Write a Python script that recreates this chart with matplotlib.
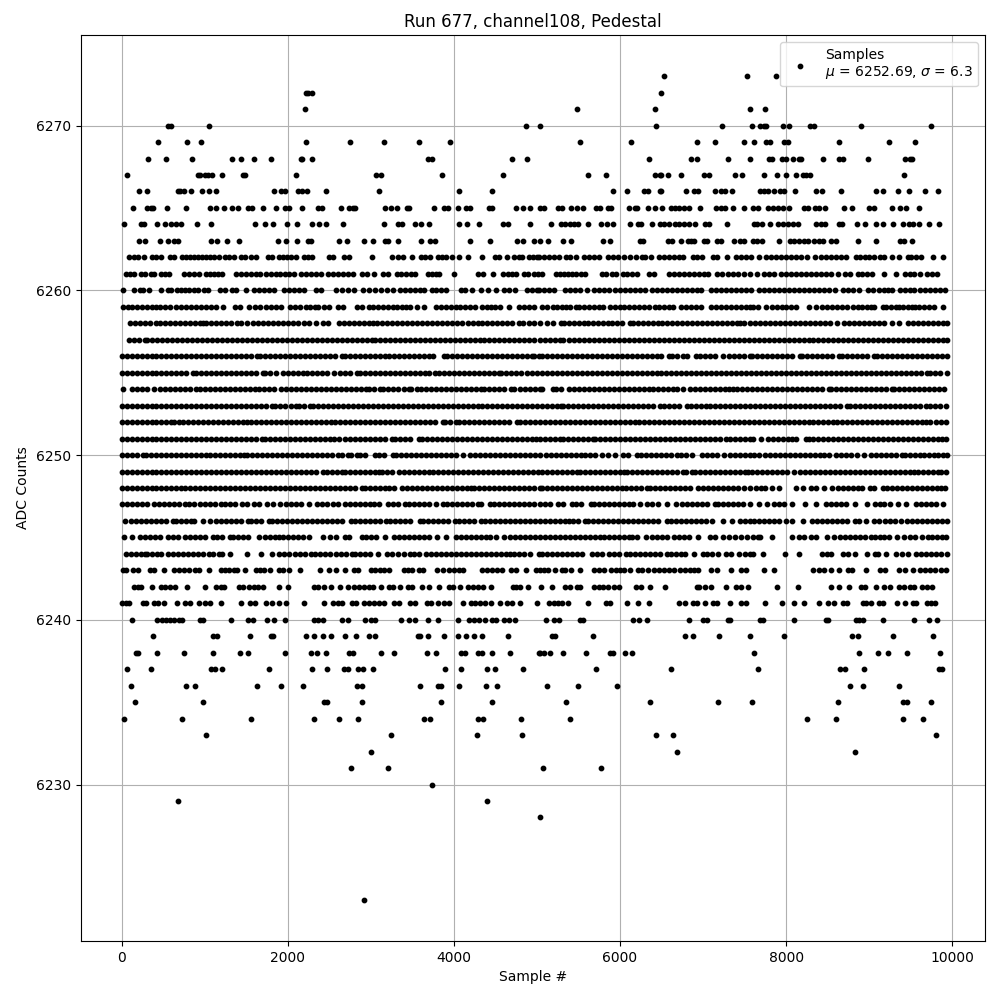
#!/usr/bin/env python3
"""
Pedestal samples of one ADC channel, values read off the picture level by level
"""
import numpy as np
import matplotlib
matplotlib.use('Agg')
import matplotlib.pyplot as plt

# sample numbers seen at each ADC level
s_6223 = [2916]
s_6228 = [5040]
s_6229 = [679, 4402]
s_6230 = [3739]
s_6231 = [2763, 3209, 5077, 5775]
s_6232 = [3004, 6691, 8824]
s_6233 = [1016, 3245, 4281, 4823, 6438, 6643, 9811]
s_6234 = [28, 727, 1558, 2317, 2618, 2847, 3642, 3715, 4293, 4353, 4811, 5402, 8257, 8607, 9402, 9643]
s_6235 = [161, 980, 2437, 2474, 2896, 3847, 4462, 5354, 6366, 7185, 7595, 8631, 9402, 9450, 9739]
s_6236 = [112, 775, 884, 1630, 1920, 2185, 2835, 2896, 3594, 3811, 3847, 4064, 4390, 4522, 5125, 5498, 5968, 8775, 8932, 9354]
s_6237 = [64, 353, 1076, 1125, 1209, 1775, 2293, 2474, 2679, 2727, 2847, 2908, 3028, 3896, 4088, 4402, 4498, 4835,
          5715, 6619, 7667, 8655, 8715, 8944, 9836, 9872]
s_6238 = [173, 197, 426, 751, 1100, 1426, 1522, 1968, 2281, 2353, 2462, 2739, 2787, 3124, 3281, 3679, 3787, 4088, 4137,
          4293, 4341, 4462, 4679, 5028, 5040, 5089, 5161, 5318, 5595, 5884, 5920, 6064, 6149, 7619, 8884, 9101, 9233, 9450, 9848]
s_6239 = [378, 1100, 1148, 1546, 1799, 1823, 2221, 2317, 2426, 2522, 2691, 2823, 2980, 3052, 3570, 3594, 3691, 3883,
          4052, 4149, 4245, 4341, 4655, 5185, 5221, 5679, 6787, 6884, 7197, 7570, 7980, 8799, 8860, 9293, 9763]
s_6240 = [124, 426, 486, 534, 582, 630, 691, 727, 944, 980, 1317, 1522, 1582, 1751, 1835, 1968, 2317, 2365, 2426, 2655, 2727,
          2932, 3004, 3052, 3366, 3462, 3534, 3691, 3811, 4052, 4185, 4245, 4305, 4378, 4462, 4510, 4606, 4667, 4739,
          5113, 5209, 5269, 5522, 5558, 6161, 6233, 6330, 6836, 7004, 7052, 7305, 7329, 7691, 7727, 8101, 8486, 8510,
          8836, 8872, 8932, 9161, 9546, 9715, 9823]
s_6241 = [4, 52, 88, 257, 293, 390, 438, 510, 667, 763, 823, 932, 1004, 1064, 1197, 1438, 1546, 1606, 1739, 1811, 1896, 1980,
          2197, 2437, 2546, 2606, 2655, 2775, 2823, 2920, 2980, 3040, 3100, 3161, 3281, 3341, 3474, 3534, 3679, 3727,
          3811, 3883, 3944, 4112, 4209, 4257, 4317, 4378, 4450, 4558, 4643, 4703, 4799, 5004, 5149, 5209, 5257, 5305, 5378,
          5619, 5836, 5884, 6089, 6221, 6354, 6715, 6787, 6884, 6932, 7028, 7125, 7173, 7329, 7462, 7522, 7751, 7956,
          8101, 8221, 8402, 8510, 8571, 8691, 8739, 8932, 8968, 9028, 9113, 9161, 9330, 9426, 9534, 9570, 9691, 9739, 9799]
s_6242 = [149, 197, 233, 365, 474, 522, 582, 643, 787, 1004, 1137, 1197, 1233, 1414, 1462, 1534, 1594, 1643, 1703, 1896, 2004,
          2317, 2365, 2437, 2522, 2631, 2727, 2799, 2859, 2920, 2980, 3028, 3124, 3221, 3269, 3353, 3450, 3498, 3618, 3703,
          3823, 3944, 3992, 4076, 4173, 4233, 4293, 4353, 4450, 4715, 4751, 4799, 4895, 5053, 5185, 5342, 5402, 5486, 5522,
          5691, 5751, 5799, 5860, 5932, 5992, 6197, 6257, 6366, 6546, 6932, 6956, 7028, 7101, 7282, 7402, 7462, 7546, 7896,
          8149, 8546, 8643, 8763, 8908, 8956, 9088, 9185, 9257, 9354, 9414, 9486, 9546, 9631, 9691, 9751]
s_6243 = [16, 52, 137, 197, 341, 390, 510, 630, 691, 751, 811, 884, 932, 1052, 1197, 1245, 1293, 1353, 1390, 1486, 1618, 1667,
          1715, 1787, 1896, 1944, 2016, 2149, 2389, 2498, 2582, 2691, 2799, 2847, 3004, 3052, 3112, 3161, 3221, 3402, 3450,
          3498, 3582, 3630, 3799, 3871, 3944, 4004, 4064, 4112, 4341, 4402, 4462, 4522, 4582, 4691, 4751, 4871, 4992,
          5040, 5089, 5137, 5221, 5305, 5342, 5414, 5522, 5691, 5751, 5811, 5896, 5956, 6004, 6052, 6125, 6221, 6269, 6342,
          6414, 6474, 6534, 6595, 6655, 6727, 6787, 6848, 6896, 6944, 7101, 7173, 7342, 7462, 7522, 7739, 7860, 8330, 8402,
          8462, 8535, 8643, 8751, 8799, 8964, 9125, 9197, 9354, 9426, 9534, 9607, 9667, 9727, 9799, 9860, 9920]
s_6244 = [55, 115, 175, 235, 285, 310, 370, 430, 470, 560, 620, 680, 740, 800, 860, 920, 975, 1055, 1100, 1170, 1210, 1305,
          1505, 1680, 1810, 1890, 1950, 2010, 2090, 2150, 2210, 2285, 2330, 2390, 2450, 2510, 2580, 2640, 2700, 2770, 2810, 2870,
          2930, 2990, 3085, 3190, 3250, 3325, 3400, 3475, 3525, 3585, 3665, 3725, 3785, 3845, 3905, 3965, 4025, 4085, 4145, 4205,
          4265, 4325, 4385, 4450, 4510, 4570, 4630, 4680, 4720, 4780, 4840, 4920, 5020, 5060, 5120, 5180, 5240, 5300, 5360, 5420,
          5480, 5545, 5660, 5720, 5780, 5870, 5925, 5985, 6075, 6120, 6180, 6240, 6300, 6360, 6420, 6480, 6565, 6615, 6675, 6730,
          6780, 6895, 7005, 7050, 7110, 7180, 7275, 7335, 7430, 7500, 7570, 7600, 7720, 7990, 8160, 8435, 8490, 8545,
          8685, 8745, 8835, 8975, 9075, 9104, 9205, 9325, 9395, 9470, 9565, 9625, 9685, 9745, 9805, 9865, 9940]
s_6245 = [25, 120, 220, 280, 340, 400, 460, 560, 620, 680, 760, 820, 880, 940, 1000, 1095, 1150, 1210, 1305, 1345, 1405, 1465,
          1525, 1655, 1725, 1785, 1845, 1895, 1945, 2005, 2065, 2125, 2185, 2255, 2420, 2510, 2580, 2690, 2740, 2890, 2945, 3005,
          3065, 3170, 3280, 3340, 3400, 3460, 3520, 3580, 3640, 3700, 3795, 3900, 4025, 4085, 4145, 4205, 4265, 4325, 4385, 4440,
          4505, 4600, 4680, 4740, 4800, 4860, 4920, 4980, 5040, 5100, 5160, 5220, 5280, 5340, 5400, 5460, 5520, 5580, 5640, 5700,
          5760, 5805, 5865, 5925, 5985, 6045, 6105, 6145, 6200, 6310, 6380, 6445, 6505, 6565, 6655, 6715, 6775, 6835, 6940, 7080,
          7140, 7240, 7315, 7390, 7460, 7535, 7600, 7660, 7690, 7825, 8075, 8150, 8220, 8300, 8365, 8488, 8575, 8655, 8715,
          8775, 8835, 8895, 8955, 9025, 9065, 9125, 9185, 9245, 9335, 9415, 9490, 9550, 9635, 9705, 9760, 9820, 9880, 9930]
s_6246 = [35, 110, 170, 230, 290, 350, 410, 470, 530, 620, 655, 715, 775, 835, 870, 975, 1060, 1135, 1195, 1255, 1315, 1375,
          1435, 1525, 1560, 1620, 1680, 1775, 1815, 1875, 1935, 1995, 2055, 2115, 2175, 2235, 2295, 2355, 2415, 2475, 2530, 2590,
          2650, 2760, 2810, 2870, 2930, 2990, 3050, 3110, 3180, 3235, 3295, 3355, 3415, 3475, 3595, 3630, 3690, 3750, 3810, 3870,
          3930, 4015, 4065, 4125, 4185, 4245, 4330, 4380, 4440, 4500, 4560, 4620, 4680, 4740, 4800, 4860, 4920, 4980, 5040, 5100,
          5160, 5220, 5280, 5340, 5390, 5430, 5490, 5580, 5615, 5675, 5735, 5795, 5855, 5915, 5975, 6035, 6095, 6155, 6215, 6275,
          6335, 6395, 6455, 6565, 6620, 6680, 6740, 6800, 6860, 6920, 6980, 7040, 7110, 7235, 7345, 7440, 7500, 7570, 7610, 7675,
          7730, 7790, 7850, 7910, 8005, 8075, 8205, 8315, 8375, 8435, 8495, 8555, 8615, 8675, 8735, 8825, 8880, 8965, 9060, 9120,
          9190, 9250, 9310, 9385, 9460, 9520, 9580, 9640, 9700, 9760, 9820, 9880, 9940]
s_6247 = [0, 60, 120, 180, 240, 300, 390, 450, 510, 570, 630, 690, 760, 815, 875, 940, 1005, 1065, 1125, 1200, 1245, 1305, 1365,
          1445, 1505, 1590, 1650, 1745, 1825, 1905, 1975, 2035, 2095, 2155, 2255, 2350, 2410, 2470, 2540, 2610, 2685, 2745, 2805,
          2865, 2925, 2995, 3035, 3095, 3210, 3270, 3330, 3410, 3465, 3525, 3585, 3645, 3705, 3785, 3870, 3915, 3975, 4035, 4095,
          4155, 4215, 4295, 4330, 4440, 4485, 4545, 4605, 4665, 4725, 4785, 4845, 4905, 4965, 5040, 5100, 5160, 5260, 5315, 5420,
          5475, 5535, 5655, 5690, 5750, 5810, 5870, 5930, 5990, 6050, 6110, 6160, 6240, 6330, 6390, 6460, 6570, 6670, 6750, 6810,
          6870, 6930, 6990, 7050, 7150, 7180, 7240, 7300, 7360, 7420, 7480, 7570, 7670, 7772, 7860, 7920, 7980, 8070, 8226, 8355,
          8485, 8545, 8605, 8665, 8720, 8825, 8980, 9065, 9125, 9185, 9255, 9345, 9445, 9560, 9620, 9680, 9740, 9800, 9885]
s_6248 = [0, 60, 120, 180, 240, 300, 360, 420, 480, 540, 600, 660, 720, 765, 825, 885, 945, 1005, 1065, 1125, 1185, 1245, 1305,
          1365, 1425, 1485, 1545, 1605, 1665, 1725, 1785, 1845, 1905, 1965, 2025, 2085, 2145, 2205, 2265, 2325, 2385, 2445, 2510,
          2570, 2630, 2690, 2750, 2810, 2895, 2935, 2995, 3055, 3115, 3175, 3220, 3285, 3370, 3440, 3500, 3560, 3620, 3680, 3740,
          3800, 3860, 3920, 3980, 4040, 4100, 4160, 4205, 4245, 4305, 4365, 4425, 4485, 4545, 4605, 4665, 4725, 4785, 4845, 4905,
          4970, 5040, 5060, 5120, 5180, 5240, 5300, 5360, 5420, 5480, 5540, 5600, 5660, 5720, 5780, 5840, 5900, 5960, 6025, 6075,
          6135, 6195, 6255, 6325, 6365, 6425, 6485, 6545, 6605, 6665, 6725, 6785, 6845, 6935, 7005, 7065, 7125, 7185, 7245, 7305,
          7365, 7425, 7490, 7570, 7640, 7700, 7750, 7830, 7915, 8115, 8205, 8305, 8365, 8460, 8548, 8620, 8680, 8740, 8800, 8860,
          8920, 9015, 9055, 9165, 9215, 9275, 9335, 9395, 9455, 9515, 9575, 9635, 9695, 9755, 9815, 9860, 9911]
s_6249 = [0, 60, 120, 180, 240, 300, 360, 420, 480, 540, 600, 660, 720, 780, 840, 900, 960, 1020, 1080, 1140, 1200, 1260, 1320,
          1380, 1440, 1500, 1560, 1620, 1680, 1740, 1800, 1860, 1920, 1980, 2040, 2100, 2160, 2220, 2280, 2340, 2430, 2470, 2530,
          2590, 2650, 2690, 2750, 2810, 2870, 2930, 2990, 3050, 3100, 3130, 3190, 3250, 3340, 3395, 3455, 3515, 3575, 3635, 3695,
          3755, 3815, 3875, 3935, 3995, 4055, 4115, 4175, 4235, 4295, 4355, 4415, 4475, 4535, 4595, 4655, 4715, 4775, 4835, 4895,
          4955, 5015, 5060, 5120, 5180, 5240, 5300, 5360, 5420, 5480, 5520, 5580, 5640, 5700, 5760, 5820, 5880, 5940, 6000, 6045,
          6085, 6145, 6205, 6265, 6325, 6385, 6445, 6505, 6565, 6625, 6685, 6760, 6800, 6865, 6905, 6965, 7025, 7085, 7145, 7205,
          7265, 7325, 7385, 7445, 7500, 7540, 7590, 7650, 7710, 7770, 7830, 7890, 7950, 8010, 8100, 8170, 8230, 8290, 8350, 8410,
          8470, 8530, 8590, 8650, 8710, 8770, 8830, 8890, 8950, 9010, 9070, 9130, 9190, 9250, 9310, 9370, 9430, 9490, 9540, 9590,
          9650, 9710, 9770, 9828, 9860, 9930]
s_6250 = [5, 65, 125, 185, 260, 290, 350, 410, 470, 530, 590, 650, 710, 770, 830, 890, 950, 1010, 1070, 1130, 1190, 1250, 1310,
          1370, 1430, 1475, 1515, 1575, 1635, 1695, 1755, 1815, 1875, 1935, 1995, 2055, 2115, 2175, 2235, 2295, 2355, 2415, 2475,
          2530, 2605, 2650, 2730, 2760, 2840, 2870, 2930, 3050, 3100, 3160, 3265, 3300, 3360, 3420, 3480, 3540, 3600, 3660, 3720,
          3780, 3840, 3900, 3960, 4020, 4115, 4200, 4260, 4320, 4380, 4440, 4500, 4560, 4620, 4680, 4740, 4800, 4860, 4920, 4980,
          5040, 5105, 5165, 5225, 5285, 5345, 5405, 5465, 5525, 5585, 5645, 5705, 5785, 5850, 5940, 6035, 6095, 6210, 6250, 6310,
          6370, 6430, 6490, 6550, 6610, 6685, 6735, 6795, 6870, 6990, 7050, 7110, 7170, 7255, 7330, 7390, 7450, 7510, 7570, 7610,
          7675, 7750, 7810, 7870, 7930, 7990, 8050, 8110, 8170, 8230, 8290, 8350, 8410, 8455, 8520, 8605, 8665, 8725, 8785, 8855,
          8935, 9025, 9085, 9145, 9205, 9265, 9325, 9395, 9435, 9495, 9555, 9610, 9655, 9715, 9775, 9835, 9895, 9940]
s_6251 = [0, 60, 120, 180, 240, 300, 360, 420, 480, 540, 600, 660, 720, 780, 840, 900, 960, 1020, 1080, 1140, 1200, 1260, 1320,
          1380, 1440, 1500, 1560, 1620, 1685, 1725, 1785, 1845, 1905, 1965, 2025, 2085, 2145, 2205, 2265, 2325, 2385, 2445, 2510,
          2560, 2620, 2695, 2755, 2815, 2875, 2935, 2995, 3055, 3115, 3175, 3250, 3290, 3350, 3410, 3470, 3580, 3615, 3675, 3735,
          3795, 3855, 3915, 3975, 4035, 4095, 4155, 4215, 4275, 4335, 4395, 4455, 4515, 4575, 4635, 4695, 4755, 4815, 4875, 4935,
          4995, 5040, 5100, 5160, 5220, 5280, 5310, 5370, 5430, 5490, 5550, 5610, 5670, 5700, 5760, 5820, 5880, 5940, 6000, 6060,
          6120, 6180, 6240, 6300, 6360, 6420, 6480, 6540, 6600, 6660, 6720, 6780, 6840, 6900, 6960, 7020, 7080, 7140, 7200, 7280,
          7325, 7385, 7445, 7505, 7570, 7600, 7695, 7780, 7840, 7900, 7960, 8020, 8075, 8120, 8235, 8270, 8330, 8390, 8450, 8510,
          8570, 8630, 8690, 8750, 8810, 8870, 8930, 8990, 9050, 9110, 9170, 9230, 9290, 9350, 9410, 9470, 9530, 9590, 9650, 9710,
          9770, 9830, 9880, 9920]
s_6252 = [0, 60, 120, 180, 240, 300, 360, 420, 480, 540, 590, 625, 685, 745, 805, 865, 925, 985, 1045, 1105, 1165, 1225, 1285,
          1345, 1405, 1465, 1515, 1555, 1615, 1675, 1735, 1795, 1855, 1915, 1975, 2035, 2095, 2155, 2215, 2275, 2335, 2395, 2455,
          2515, 2575, 2635, 2695, 2755, 2815, 2875, 2935, 2995, 3055, 3115, 3175, 3235, 3295, 3355, 3415, 3475, 3535, 3595, 3655,
          3715, 3775, 3865, 3895, 3955, 4030, 4060, 4120, 4180, 4240, 4300, 4360, 4420, 4480, 4540, 4600, 4660, 4760, 4800, 4860,
          4920, 4980, 5040, 5100, 5160, 5220, 5280, 5340, 5400, 5460, 5520, 5580, 5640, 5700, 5760, 5820, 5880, 5940, 6000, 6060,
          6120, 6185, 6230, 6290, 6350, 6410, 6470, 6530, 6590, 6650, 6710, 6770, 6830, 6890, 6950, 7010, 7070, 7130, 7190, 7250,
          7310, 7370, 7430, 7490, 7550, 7610, 7670, 7730, 7790, 7850, 7910, 7970, 8030, 8090, 8150, 8210, 8270, 8330, 8390, 8450,
          8510, 8566, 8615, 8675, 8735, 8795, 8855, 8915, 8975, 9035, 9095, 9155, 9215, 9275, 9335, 9395, 9455, 9515, 9575, 9640,
          9680, 9735, 9800, 9860, 9925]
s_6253 = [0, 60, 120, 180, 240, 300, 360, 420, 480, 540, 600, 660, 720, 780, 840, 900, 960, 1020, 1080, 1140, 1200, 1260, 1320,
          1380, 1440, 1500, 1560, 1620, 1680, 1740, 1805, 1845, 1905, 1965, 2040, 2095, 2135, 2195, 2270, 2305, 2365, 2425, 2485,
          2545, 2605, 2665, 2725, 2785, 2845, 2905, 2965, 3025, 3085, 3145, 3205, 3265, 3325, 3385, 3445, 3505, 3565, 3625, 3685,
          3745, 3805, 3865, 3925, 3985, 4045, 4105, 4165, 4225, 4285, 4345, 4405, 4465, 4525, 4585, 4645, 4705, 4765, 4825, 4885,
          4945, 5005, 5065, 5125, 5185, 5245, 5290, 5320, 5380, 5440, 5500, 5560, 5620, 5680, 5740, 5800, 5860, 5920, 5980, 6040,
          6100, 6160, 6220, 6280, 6340, 6400, 6485, 6530, 6590, 6650, 6710, 6805, 6850, 6910, 6970, 7030, 7090, 7150, 7210, 7270,
          7330, 7390, 7450, 7510, 7570, 7630, 7690, 7750, 7810, 7870, 7930, 7990, 8050, 8110, 8170, 8230, 8290, 8350, 8410, 8470,
          8530, 8590, 8650, 8735, 8770, 8830, 8890, 8950, 9010, 9070, 9130, 9190, 9250, 9310, 9370, 9430, 9490, 9550, 9610, 9685,
          9735, 9795, 9855, 9920]
s_6254 = [15, 130, 190, 250, 310, 385, 460, 520, 580, 640, 700, 760, 820, 895, 940, 1000, 1060, 1120, 1180, 1240, 1300, 1360,
          1420, 1480, 1540, 1600, 1660, 1720, 1780, 1840, 1915, 1975, 2035, 2095, 2155, 2225, 2280, 2340, 2400, 2460, 2525, 2585,
          2645, 2705, 2765, 2825, 2885, 2945, 2975, 3035, 3110, 3150, 3210, 3270, 3330, 3400, 3455, 3490, 3560, 3605, 3665, 3725,
          3785, 3845, 3905, 3965, 4025, 4085, 4145, 4205, 4265, 4325, 4365, 4425, 4485, 4545, 4605, 4690, 4725, 4800, 4860, 4920,
          4980, 5040, 5060, 5190, 5235, 5295, 5390, 5450, 5510, 5570, 5630, 5690, 5750, 5810, 5870, 5930, 5990, 6050, 6110, 6170,
          6230, 6290, 6345, 6395, 6455, 6515, 6575, 6635, 6685, 6755, 6840, 6900, 6960, 7020, 7080, 7140, 7200, 7260, 7310, 7355,
          7415, 7475, 7535, 7590, 7650, 7710, 7770, 7830, 7890, 7950, 8010, 8070, 8130, 8190, 8250, 8310, 8370, 8430, 8515, 8545,
          8605, 8665, 8725, 8785, 8845, 8905, 8965, 9025, 9085, 9145, 9205, 9275, 9305, 9365, 9425, 9485, 9545, 9605, 9665, 9725,
          9785, 9845, 9905]
s_6255 = [0, 60, 120, 180, 240, 300, 360, 420, 480, 540, 600, 660, 720, 780, 855, 900, 960, 1020, 1080, 1140, 1200, 1260, 1320,
          1380, 1440, 1500, 1560, 1620, 1700, 1725, 1785, 1860, 1940, 2000, 2060, 2120, 2185, 2235, 2295, 2355, 2415, 2475, 2555,
          2625, 2685, 2745, 2835, 2870, 2930, 2990, 3050, 3110, 3170, 3230, 3290, 3350, 3410, 3470, 3530, 3590, 3650, 3695, 3770,
          3820, 3880, 3940, 4000, 4060, 4120, 4180, 4240, 4300, 4360, 4420, 4480, 4540, 4565, 4625, 4685, 4745, 4805, 4880, 4940,
          5000, 5060, 5120, 5180, 5240, 5300, 5360, 5420, 5480, 5540, 5600, 5660, 5720, 5780, 5840, 5900, 5960, 6020, 6080, 6140,
          6200, 6260, 6320, 6380, 6440, 6500, 6560, 6620, 6680, 6740, 6800, 6860, 6920, 6980, 7040, 7100, 7160, 7220, 7280, 7340,
          7400, 7460, 7520, 7580, 7640, 7700, 7760, 7820, 7880, 7940, 8000, 8060, 8120, 8180, 8240, 8300, 8360, 8420, 8480, 8540,
          8600, 8660, 8720, 8780, 8840, 8900, 8960, 9020, 9080, 9140, 9200, 9260, 9320, 9380, 9440, 9500, 9560, 9620, 9695, 9735,
          9795, 9855, 9940]
s_6256 = [0, 60, 120, 180, 240, 300, 360, 420, 480, 540, 600, 660, 720, 780, 840, 900, 960, 1020, 1080, 1140, 1200, 1260, 1320,
          1380, 1440, 1500, 1560, 1625, 1665, 1725, 1785, 1845, 1905, 1965, 2025, 2085, 2145, 2205, 2265, 2325, 2385, 2445, 2510,
          2570, 2650, 2695, 2755, 2815, 2875, 2935, 2995, 3055, 3115, 3170, 3220, 3280, 3340, 3400, 3460, 3520, 3580, 3640, 3695,
          3755, 3880, 3915, 3975, 4035, 4095, 4155, 4215, 4275, 4335, 4395, 4455, 4515, 4575, 4635, 4695, 4755, 4815, 4875, 4935,
          4970, 5020, 5060, 5120, 5180, 5240, 5300, 5360, 5420, 5480, 5540, 5600, 5660, 5720, 5780, 5840, 5900, 5960, 6020, 6080,
          6140, 6200, 6260, 6320, 6380, 6440, 6500, 6595, 6625, 6685, 6755, 6805, 6915, 6960, 7020, 7080, 7140, 7235, 7315, 7375,
          7435, 7495, 7570, 7590, 7650, 7710, 7770, 7830, 7890, 7950, 8010, 8070, 8165, 8190, 8250, 8310, 8370, 8430, 8490, 8550,
          8635, 8675, 8735, 8795, 8855, 8915, 8975, 9055, 9095, 9155, 9215, 9275, 9335, 9395, 9455, 9515, 9575, 9635, 9695, 9755,
          9815, 9875, 9940]
s_6257 = [85, 145, 205, 280, 310, 370, 430, 490, 550, 610, 670, 730, 790, 850, 910, 970, 1030, 1090, 1150, 1210, 1270, 1330,
          1390, 1450, 1510, 1570, 1630, 1690, 1750, 1810, 1870, 1930, 1990, 2050, 2110, 2170, 2230, 2290, 2350, 2410, 2470, 2530,
          2590, 2650, 2710, 2770, 2830, 2890, 2950, 3010, 3050, 3110, 3170, 3230, 3290, 3350, 3410, 3470, 3530, 3590, 3650, 3710,
          3770, 3830, 3890, 3950, 4010, 4070, 4130, 4190, 4250, 4310, 4365, 4425, 4485, 4545, 4605, 4665, 4725, 4785, 4845, 4905,
          4965, 5040, 5100, 5160, 5220, 5280, 5310, 5390, 5450, 5510, 5570, 5630, 5690, 5750, 5810, 5870, 5930, 5990, 6050, 6110,
          6170, 6230, 6290, 6350, 6410, 6470, 6530, 6590, 6650, 6710, 6770, 6830, 6890, 6950, 7010, 7070, 7130, 7190, 7250, 7310,
          7370, 7430, 7490, 7550, 7610, 7670, 7730, 7790, 7850, 7910, 7970, 8030, 8090, 8150, 8210, 8270, 8330, 8390, 8450, 8510,
          8570, 8630, 8690, 8750, 8810, 8870, 8930, 8990, 9050, 9110, 9170, 9230, 9290, 9350, 9410, 9470, 9530, 9590, 9650, 9710,
          9770, 9830, 9890, 9940]
s_6258 = [100, 160, 220, 280, 340, 420, 465, 520, 580, 640, 700, 760, 820, 880, 940, 985, 1015, 1075, 1135, 1195, 1255, 1315,
          1385, 1440, 1510, 1585, 1640, 1700, 1760, 1820, 1880, 1940, 2000, 2060, 2120, 2195, 2260, 2345, 2420, 2480, 2620, 2680,
          2740, 2800, 2860, 2920, 2980, 3030, 3080, 3140, 3200, 3260, 3320, 3380, 3440, 3495, 3555, 3615, 3675, 3735, 3795, 3855,
          3915, 3975, 4035, 4095, 4165, 4225, 4285, 4345, 4405, 4465, 4525, 4585, 4645, 4700, 4780, 4830, 4910, 4970, 5040, 5125,
          5190, 5285, 5325, 5385, 5445, 5505, 5565, 5620, 5670, 5730, 5790, 5850, 5910, 5970, 6030, 6115, 6155, 6215, 6275, 6335,
          6395, 6460, 6505, 6565, 6625, 6685, 6745, 6805, 6865, 6925, 6985, 7045, 7105, 7165, 7225, 7285, 7345, 7405, 7450, 7490,
          7570, 7630, 7690, 7750, 7810, 7870, 7930, 7990, 8050, 8110, 8170, 8230, 8290, 8350, 8410, 8470, 8530, 8615, 8695, 8755,
          8815, 8875, 8935, 8995, 9055, 9115, 9175, 9275, 9355, 9470, 9530, 9590, 9650, 9710, 9770, 9830, 9890, 9940]
s_6259 = [20, 75, 130, 190, 250, 310, 370, 420, 465, 520, 580, 650, 720, 780, 840, 900, 960, 1020, 1080, 1140, 1220, 1360, 1420,
          1530, 1600, 1670, 1740, 1800, 1860, 1920, 2030, 2090, 2150, 2220, 2270, 2330, 2370, 2440, 2500, 2600, 2670, 2840, 2900,
          2980, 3030, 3090, 3150, 3210, 3270, 3320, 3370, 3420, 3470, 3560, 3640, 3790, 3850, 3910, 3970, 4020, 4080, 4140, 4200,
          4260, 4340, 4400, 4445, 4490, 4560, 4670, 4790, 4850, 4910, 4960, 5060, 5120, 5190, 5240, 5300, 5350, 5400, 5470, 5510,
          5570, 5630, 5690, 5750, 5800, 5885, 5945, 6000, 6050, 6110, 6170, 6230, 6290, 6350, 6420, 6465, 6525, 6585, 6635, 6735,
          6795, 6855, 6915, 6975, 7100, 7160, 7220, 7280, 7340, 7400, 7460, 7520, 7570, 7600, 7665, 7760, 7825, 7885, 7945, 8005,
          8065, 8115, 8275, 8355, 8435, 8495, 8555, 8615, 8675, 8735, 8805, 8860, 8920, 8975, 9020, 9060, 9165, 9205, 9265, 9325,
          9365, 9410, 9465, 9515, 9555, 9600, 9660, 9720, 9775, 9895]
s_6260 = [16, 149, 221, 257, 329, 474, 558, 594, 667, 715, 763, 811, 871, 920, 992, 1040, 1185, 1245, 1329, 1378, 1498, 1594,
          1655, 1715, 1775, 1835, 1956, 2016, 2076, 2136, 2197, 2341, 2402, 2582, 2655, 2727, 2799, 2908, 2980, 3052, 3124, 3197,
          3269, 3353, 3414, 3474, 3534, 3594, 3642, 3739, 3787, 3847, 3908, 4088, 4137, 4221, 4329, 4414, 4510, 4606, 4667, 4739,
          4884, 4944, 5004, 5028, 5089, 5149, 5209, 5342, 5402, 5462, 5522, 5607, 5691, 5751, 5811, 5872, 5944, 6004, 6064, 6125,
          6185, 6245, 6305, 6390, 6450, 6510, 6570, 6631, 6691, 6751, 6811, 6872, 6932, 6980, 7101, 7161, 7221, 7282, 7342, 7402,
          7462, 7522, 7583, 7679, 7739, 7799, 7860, 7920, 7980, 8040, 8101, 8161, 8221, 8281, 8342, 8402, 8462, 8522, 8595, 8691,
          8751, 8811, 8884, 8992, 9052, 9113, 9173, 9233, 9281, 9366, 9426, 9486, 9546, 9607, 9667, 9727, 9787, 9848, 9908]
s_6261 = [52, 100, 149, 233, 281, 353, 390, 474, 522, 570, 751, 811, 871, 931, 1016, 1064, 1112, 1160, 1209, 1378, 1438, 1498,
          1558, 1618, 1667, 1739, 1799, 1859, 1908, 1968, 2016, 2076, 2161, 2221, 2281, 2341, 2402, 2486, 2546, 2606, 2667, 2727,
          2787, 2895, 2956, 3040, 3149, 3209, 3317, 3366, 3426, 3486, 3534, 3691, 3739, 3787, 3823, 4004, 4293, 4353, 4474, 4594,
          4655, 4703, 4751, 4847, 4895, 4968, 5016, 5064, 5233, 5281, 5330, 5378, 5426, 5474, 5534, 5583, 5787, 5836, 5908, 5956,
          6040, 6089, 6149, 6209, 6354, 6414, 6595, 6655, 6715, 6775, 6836, 6896, 6956, 7016, 7064, 7173, 7233, 7305, 7366, 7426,
          7498, 7570, 7655, 7739, 7799, 7860, 7944, 8004, 8064, 8125, 8185, 8245, 8305, 8366, 8426, 8486, 8546, 8631, 8715, 8775,
          8860, 8920, 8980, 9040, 9185, 9318, 9426, 9486, 9546, 9607, 9691, 9751, 9823]
s_6262 = [88, 149, 197, 269, 365, 414, 474, 582, 630, 727, 775, 823, 871, 920, 968, 1016, 1064, 1112, 1173, 1245, 1293, 1353,
          1438, 1486, 1558, 1618, 1763, 1811, 1896, 1944, 1992, 2040, 2100, 2197, 2245, 2293, 2498, 2546, 2679, 2739, 3016, 3257,
          3329, 3390, 3498, 3606, 3655, 3715, 3811, 3859, 3908, 3980, 4064, 4173, 4341, 4498, 4546, 4639, 4719, 4787, 4823, 4908,
          4956, 5004, 5028, 5089, 5149, 5209, 5269, 5354, 5402, 5474, 5571, 5631, 5691, 5751, 5860, 5920, 5980, 6052, 6125, 6197,
          6269, 6305, 6378, 6474, 6534, 6595, 6655, 6715, 6763, 6884, 6932, 6992, 7125, 7173, 7293, 7402, 7462, 7522, 7583, 7679,
          7763, 7823, 7884, 7944, 8004, 8064, 8125, 8185, 8257, 8354, 8426, 8486, 8546, 8607, 8667, 8727, 8836, 8896, 8956, 9004,
          9064, 9125, 9185, 9281, 9354, 9462, 9510, 9570, 9619, 9763, 9884]
s_6263 = [209, 281, 462, 558, 630, 679, 1076, 1148, 1269, 1414, 1884, 1980, 2112, 2245, 2281, 2618, 2715, 2920, 3028, 3173, 3209,
          3329, 3606, 3715, 3775, 4197, 4438, 4763, 4835, 4968, 5040, 5137, 5318, 5414, 5799, 5884, 6245, 6281, 6583, 6631, 6739,
          6824, 6860, 6896, 7016, 7052, 7173, 7221, 7378, 7450, 7498, 7607, 7655, 7715, 7920, 8052, 8101, 8161, 8221, 8269, 8342,
          8402, 8450, 8546, 8607, 8860, 9088, 9366, 9414, 9522]
s_6264 = [28, 233, 269, 426, 522, 594, 655, 715, 908, 1076, 1606, 1727, 1823, 1992, 2112, 2293, 2377, 2462, 2667, 3161, 3329, 3377,
          3534, 3606, 3703, 4064, 4161, 4305, 4594, 4655, 4919, 5173, 5293, 5342, 5402, 5450, 5498, 5619, 5775, 5848, 5920, 6125,
          6221, 6257, 6390, 6486, 6534, 6595, 6667, 6715, 6775, 6836, 6908, 7028, 7077, 7293, 7619, 7655, 7715, 7811, 7908, 7968,
          8028, 8089, 8149, 8366, 8426, 8474, 8643, 8679, 8848, 8956, 9088, 9161, 9293, 9402, 9474, 9534, 9595, 9715, 9836]
s_6265 = [137, 305, 353, 377, 546, 775, 1064, 1136, 1233, 1329, 1402, 1522, 1570, 1703, 1859, 1968, 2016, 2173, 2365, 2414, 2643,
          2739, 2787, 2811, 3173, 3245, 3317, 3438, 3462, 3763, 3883, 3932, 4052, 4148, 4197, 4426, 4462, 4751, 4835, 4919, 5040,
          5089, 5257, 5305, 5414, 5486, 5558, 5715, 5763, 5860, 5896, 6113, 6185, 6209, 6342, 6426, 6510, 6619, 6667, 6715, 6775,
          6836, 6968, 7161, 7221, 7269, 7366, 7498, 7607, 7667, 7787, 7848, 7908, 7968, 8040, 8221, 8269, 8354, 8402, 8474, 8703,
          8799, 9004, 9064, 9281, 9366, 9438, 9595]
s_6266 = [209, 305, 679, 703, 751, 835, 968, 1052, 1136, 1835, 1920, 1968, 2124, 2173, 2233, 2462, 3100, 4064, 4462, 5920, 6089,
          6293, 6342, 6486, 6498, 6799, 6896, 6944, 7149, 7221, 7269, 7354, 7691, 7739, 7787, 7860, 7932, 7980, 8113, 8366, 8438,
          8667, 9088, 9161, 9342, 9474, 9667, 9824]
s_6267 = [64, 920, 944, 1004, 1040, 1088, 1209, 1462, 1486, 2100, 3064, 3124, 3859, 4594, 5619, 5836, 6426, 6486, 6498, 6582, 6739,
          7016, 7077, 7390, 7474, 7739, 7896, 8004, 8125, 8209, 8245, 8293, 9414]
s_6268 = [317, 534, 847, 1329, 1438, 1594, 1799, 2157, 2173, 2293, 3691, 3739, 4703, 4884, 6354, 6860, 6932, 7297, 7570, 7800, 7836,
          7956, 8004, 8089, 8161, 8185, 8450, 8643, 8691, 8992, 9426, 9498, 9522]
s_6269 = [438, 787, 956, 2221, 2751, 3161, 3582, 3956, 5522, 6137, 6932, 7141, 7498, 7619, 7763, 7811, 7980, 8028, 8643, 9245, 9558]
s_6270 = [558, 590, 1052, 4871, 5040, 6438, 7233, 7595, 7691, 7739, 7763, 7968, 8040, 8293, 8334, 8908, 9739]
s_6271 = [2209, 5486, 6426, 7570, 7751]
s_6272 = [2217, 2245, 2293, 6498]
s_6273 = [6534, 7534, 7884]

levels = [6223, 6228, 6229, 6230, 6231, 6232, 6233, 6234, 6235, 6236, 6237, 6238, 6239, 6240, 6241, 6242, 6243, 6244, 6245,
          6246, 6247, 6248, 6249, 6250, 6251, 6252, 6253, 6254, 6255, 6256, 6257, 6258, 6259, 6260, 6261, 6262, 6263, 6264,
          6265, 6266, 6267, 6268, 6269, 6270, 6271, 6272, 6273]
rows = [s_6223, s_6228, s_6229, s_6230, s_6231, s_6232, s_6233, s_6234, s_6235, s_6236, s_6237, s_6238, s_6239, s_6240, s_6241,
        s_6242, s_6243, s_6244, s_6245, s_6246, s_6247, s_6248, s_6249, s_6250, s_6251, s_6252, s_6253, s_6254, s_6255, s_6256,
        s_6257, s_6258, s_6259, s_6260, s_6261, s_6262, s_6263, s_6264, s_6265, s_6266, s_6267, s_6268, s_6269, s_6270, s_6271,
        s_6272, s_6273]

samples = np.concatenate(rows)
counts = np.repeat(levels, [len(r) for r in rows])

fig, ax = plt.subplots(figsize=(10, 10))
# dots sit on top of the grid
ax.scatter(samples, counts, s=10, c='k', zorder=2, label='Samples\n$\\mu$ = 6252.69, $\\sigma$ = 6.3')
ax.set_xlim(-495, 10395)
ax.set_title('Run 677, channel108, Pedestal')
ax.set_xlabel('Sample #')
ax.set_ylabel('ADC Counts')
ax.legend(loc='upper right')
ax.grid(True)

fig.subplots_adjust(left=0.0805, right=0.985, top=0.965, bottom=0.059)
plt.savefig('out.png', dpi=100)
